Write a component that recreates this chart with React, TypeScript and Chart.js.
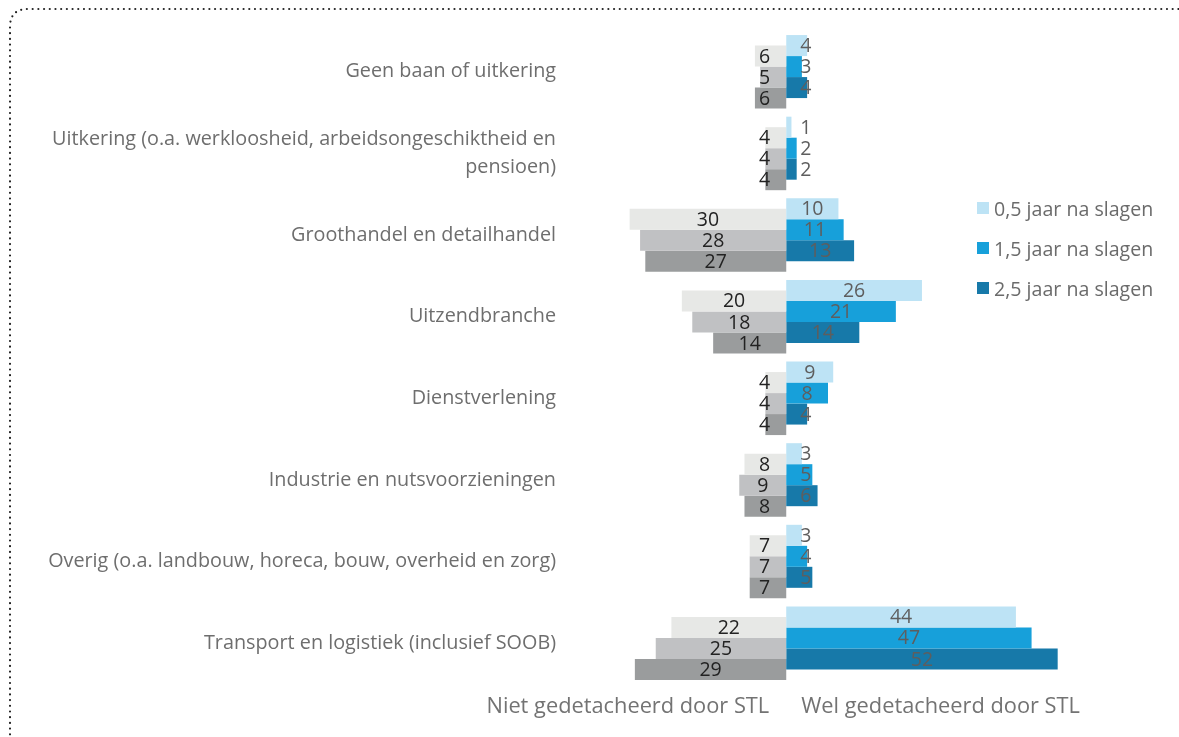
import React, { useEffect, useRef } from "react";
import { Chart, registerables } from "chart.js";

Chart.register(...registerables);

const categories: (string | string[])[] = [
  "Geen baan of uitkering",
  ["Uitkering (o.a. werkloosheid, arbeidsongeschiktheid en", "pensioen)"],
  "Groothandel en detailhandel",
  "Uitzendbranche",
  "Dienstverlening",
  "Industrie en nutsvoorzieningen",
  "Overig (o.a. landbouw, horeca, bouw, overheid en zorg)",
  "Transport en logistiek (inclusief SOOB)",
];

const seriesLabels = ["0,5 jaar na slagen", "1,5 jaar na slagen", "2,5 jaar na slagen"];

// Wel gedetacheerd door STL (right side)
const wel05 = [4, 1, 10, 26, 9, 3, 3, 44];
const wel15 = [3, 2, 11, 21, 8, 5, 4, 47];
const wel25 = [4, 2, 13, 14, 4, 6, 5, 52];

// Niet gedetacheerd door STL (left side)
const niet05 = [6, 4, 30, 20, 4, 8, 7, 22];
const niet15 = [5, 4, 28, 18, 4, 9, 7, 25];
const niet25 = [6, 4, 27, 14, 4, 8, 7, 29];

const sideTitles = ["Niet gedetacheerd door STL", "Wel gedetacheerd door STL"];

const blueColors = ["#bde3f5", "#17a0da", "#1779a9"];
const grayColors = ["#e7e8e6", "#c0c1c3", "#9a9c9d"];

const FONT = "'Open Sans', sans-serif";

const labelPlugin = {
  id: "valueLabels",
  afterDatasetsDraw(chart: any) {
    const ctx = chart.ctx;
    const xScale = chart.scales.x;
    const zero = xScale.getPixelForValue(0);
    ctx.save();
    ctx.font = `19.5px ${FONT}`;
    ctx.textAlign = "center";
    ctx.textBaseline = "middle";
    chart.data.datasets.forEach((ds: any, di: number) => {
      const meta = chart.getDatasetMeta(di);
      meta.data.forEach((el: any, i: number) => {
        const v = ds.data[i];
        const text = String(Math.abs(v));
        const w = ctx.measureText(text).width;
        const p = el.getProps(["x", "y", "base"], true);
        let cx = (p.x + p.base) / 2;
        if (v >= 0) {
          cx = Math.max(cx, zero + 14 + w / 2);
          ctx.fillStyle = "#5e5e5e";
        } else {
          cx = Math.min(cx, zero - 16 - w / 2);
          ctx.fillStyle = "#222222";
        }
        ctx.fillText(text, cx, p.y + 1);
      });
    });
    // side titles
    ctx.font = `21.8px ${FONT}`;
    ctx.fillStyle = "#737373";
    ctx.textBaseline = "middle";
    ctx.textAlign = "right";
    ctx.fillText(sideTitles[0], zero - 17, 707);
    ctx.textAlign = "left";
    ctx.fillText(sideTitles[1], zero + 15, 707);
    ctx.restore();
  },
};

export default function App() {
  const ref = useRef<HTMLCanvasElement | null>(null);

  useEffect(() => {
    if (!ref.current) return;
    const neg = (a: number[]) => a.map((v) => -v);
    const chart = new Chart(ref.current, {
      type: "bar",
      data: {
        labels: categories as any,
        datasets: [
          { label: seriesLabels[0], data: wel05, backgroundColor: blueColors[0], stack: "s0" },
          { label: "Niet " + seriesLabels[0], data: neg(niet05), backgroundColor: grayColors[0], stack: "s1" },
          { label: seriesLabels[1], data: wel15, backgroundColor: blueColors[1], stack: "s2" },
          { label: "Niet " + seriesLabels[1], data: neg(niet15), backgroundColor: grayColors[1], stack: "s3" },
          { label: seriesLabels[2], data: wel25, backgroundColor: blueColors[2], stack: "s4" },
          { label: "Niet " + seriesLabels[2], data: neg(niet25), backgroundColor: grayColors[2], stack: "s5" },
        ],
      },
      options: {
        indexAxis: "y",
        responsive: false,
        animation: false,
        datasets: {
          bar: {
            categoryPercentage: 0.772,
            barPercentage: 2,
            borderWidth: 0,
          },
        },
        layout: { padding: { left: 0, right: 90, top: 31, bottom: 53 } },
        plugins: {
          legend: { display: false },
          tooltip: { enabled: false },
        },
        scales: {
          x: {
            min: -42,
            max: 58,
            ticks: { display: false, stepSize: 10 },
            grid: {
              drawTicks: false,
              lineWidth: 2,
              color: (c: any) => (c.tick && c.tick.value === 0 ? "#d2d2d2" : "rgba(0,0,0,0)"),
            },
            border: { display: false },
            afterFit: (s: any) => {
              s.height = 0;
            },
          },
          y: {
            ticks: {
              color: "#6e6e6e",
              padding: 11,
              font: { family: FONT, size: 19.8, lineHeight: 1.42 },
            },
            grid: { display: false, drawTicks: false },
            border: { display: false },
            afterFit: (s: any) => {
              s.width = 567;
            },
          },
        },
      },
      plugins: [labelPlugin],
    });
    return () => chart.destroy();
  }, []);

  const legendTops = [208, 248, 288];

  return (
    <div
      style={{
        position: "fixed",
        left: 0,
        top: 0,
        width: 1179,
        height: 737,
        overflow: "hidden",
        background: "#fff",
      }}
    >
      <svg
        width={1179}
        height={737}
        style={{ position: "absolute", left: 0, top: 0 }}
      >
        <path
          d="M 10 740 L 10 27 Q 10 9 28 9 L 1185 9"
          fill="none"
          stroke="#222"
          strokeWidth={2.2}
          strokeDasharray="0 5.7"
          strokeLinecap="round"
        />
      </svg>
      <canvas
        ref={ref}
        width={1179}
        height={737}
        style={{ position: "absolute", left: 0, top: 0, width: 1179, height: 737 }}
      />
      {seriesLabels.map((s, i) => (
        <div
          key={s}
          style={{
            position: "absolute",
            left: 977,
            top: legendTops[i] - 12,
            height: 24,
            display: "flex",
            alignItems: "center",
            fontFamily: FONT,
            fontSize: 19.6,
            color: "#6b6b6b",
            whiteSpace: "nowrap",
          }}
        >
          <span
            style={{
              display: "inline-block",
              width: 12,
              height: 12,
              background: blueColors[i],
              marginRight: 5,
            }}
          />
          <span>{s}</span>
        </div>
      ))}
    </div>
  );
}
